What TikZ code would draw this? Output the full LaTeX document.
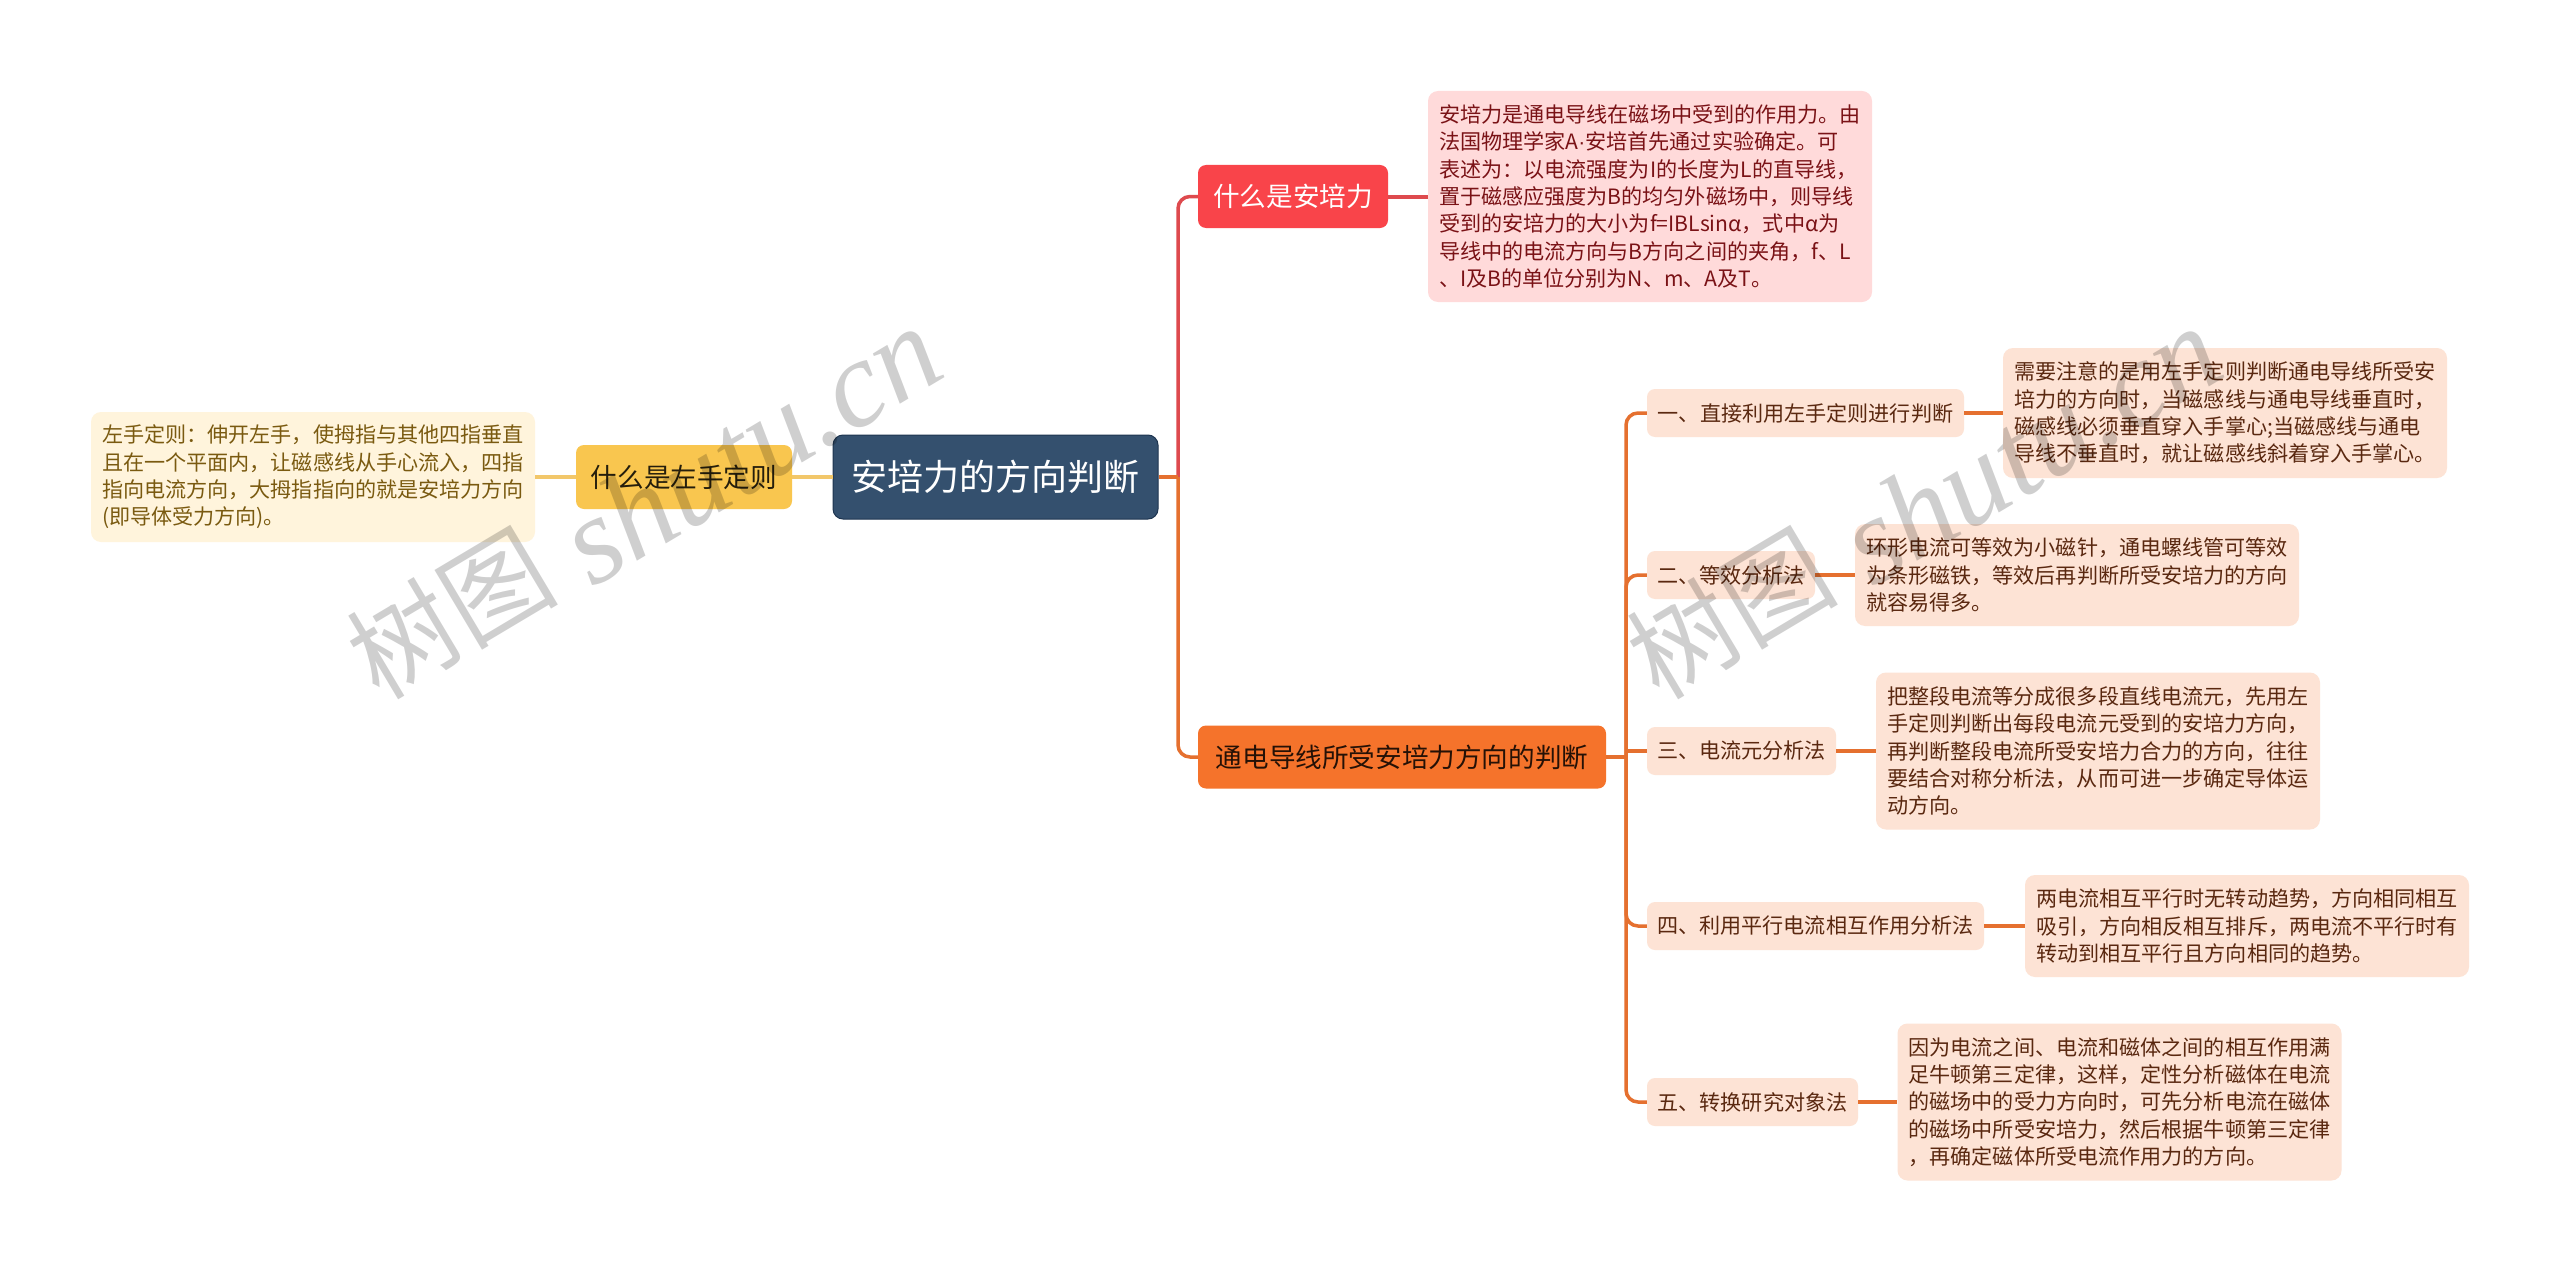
\documentclass[tikz,border=0pt]{standalone}
\usepackage{fontspec}
\setmainfont{Noto Sans CJK SC}
\newfontfamily\wmf{Liberation Serif}
\newfontfamily\dotf{Liberation Sans}
\definecolor{rootc}{HTML}{34506E}
\definecolor{rootb}{HTML}{1E3550}
\definecolor{redc}{HTML}{F9444A}
\definecolor{orangec}{HTML}{F5732B}
\definecolor{yellowc}{HTML}{F9C64F}
\definecolor{pinkc}{HTML}{FFDADA}
\definecolor{pinkt}{HTML}{7A1216}
\definecolor{peachc}{HTML}{FDE3D5}
\definecolor{peacht}{HTML}{5A2810}
\definecolor{creamc}{HTML}{FFF4DC}
\definecolor{creamt}{HTML}{7A5A10}
\definecolor{redl}{HTML}{DE4A4E}
\definecolor{orangel}{HTML}{E5702F}
\definecolor{yellowl}{HTML}{F2C76A}
\tikzset{
  x=1pt,y=-1pt,
  base/.style={inner sep=0pt,rounded corners=8pt,align=center},
  big/.style={font=\fontsize{26.6}{32}\selectfont},
  small/.style={font=\fontsize{21.1}{27.3}\selectfont},
  rootbox/.style={base,fill=rootc,draw=rootb,line width=1pt,text=white,rounded corners=10pt,font=\fontsize{36}{42}\selectfont},
  redbox/.style={base,big,fill=redc,text=white},
  orangebox/.style={base,big,fill=orangec,text=black!85!orangec},
  yellowbox/.style={base,big,fill=yellowc,text=black!85!yellowc},
  subbox/.style={base,small,fill=peachc,text=peacht},
  leafbase/.style={base,small,align=left,rounded corners=10pt},
  pinkleaf/.style={leafbase,fill=pinkc,text=pinkt},
  peachleaf/.style={leafbase,fill=peachc,text=peacht},
  creamleaf/.style={leafbase,fill=creamc,text=creamt},
  conn/.style={line width=3.5pt,line join=round},
  leafconn/.style={line width=4pt},
  rconn/.style={conn,rounded corners=12pt},
  watermark/.style={anchor=base west,rotate=30.8,inner sep=0pt,text=black,text opacity=.19},
}
\newcommand{\wmtext}{\raisebox{12pt}{\fontsize{106}{110}\selectfont 树图}\hspace{29pt}{\wmf\itshape\fontsize{124}{130}\selectfont shutu.cn}}
\begin{document}
\begin{tikzpicture}
\useasboundingbox (0,0) rectangle (2560,1271);
\fill[white] (0,0) rectangle (2560,1271);

\node[rootbox,minimum width=325pt,minimum height=84pt] (root) at (995.5,477) {安培力的方向判断};
\node[redbox,minimum width=190pt,minimum height=63pt] (what) at (1293,196.5) {什么是安培力};
\node[orangebox,minimum width=408pt,minimum height=63pt] (dir) at (1402,757) {通电导线所受安培力方向的判断};
\node[yellowbox,minimum width=216pt,minimum height=64pt] (left) at (684,477) {什么是左手定则};

\node[pinkleaf,minimum width=444pt,minimum height=211pt,text width=422pt] (whatd) at (1650,196.5) {安培力是通电导线在磁场中受到的作用力。由\\法国物理学家A{\dotf ·}安培首先通过实验确定。可\\表述为：以电流强度为I的长度为L的直导线，\\置于磁感应强度为B的均匀外磁场中，则导线\\受到的安培力的大小为f=IBLsinα，式中α为\\导线中的电流方向与B方向之间的夹角，f、L\\、I及B的单位分别为N、m、A及T。};
\node[creamleaf,minimum width=444pt,minimum height=130pt,text width=422pt] (leftd) at (313,477) {左手定则：伸开左手，使拇指与其他四指垂直\\且在一个平面内，让磁感线从手心流入，四指\\指向电流方向，大拇指指向的就是安培力方向\\(即导体受力方向)。};

\node[subbox,minimum width=317pt,minimum height=48pt] (m1) at (1805.5,413) {一、直接利用左手定则进行判断};
\node[subbox,minimum width=168pt,minimum height=48pt] (m2) at (1731,575) {二、等效分析法};
\node[subbox,minimum width=189pt,minimum height=48pt] (m3) at (1741.5,751) {三、电流元分析法};
\node[subbox,minimum width=337pt,minimum height=48pt] (m4) at (1815.5,926) {四、利用平行电流相互作用分析法};
\node[subbox,minimum width=211pt,minimum height=48pt] (m5) at (1752.5,1102) {五、转换研究对象法};

\node[peachleaf,minimum width=444pt,minimum height=130pt,text width=422pt] (d1) at (2225,413) {需要注意的是用左手定则判断通电导线所受安\\培力的方向时，当磁感线与通电导线垂直时，\\磁感线必须垂直穿入手掌心;当磁感线与通电\\导线不垂直时，就让磁感线斜着穿入手掌心。};
\node[peachleaf,minimum width=444pt,minimum height=102pt,text width=422pt] (d2) at (2077,575) {环形电流可等效为小磁针，通电螺线管可等效\\为条形磁铁，等效后再判断所受安培力的方向\\就容易得多。};
\node[peachleaf,minimum width=444pt,minimum height=157pt,text width=422pt] (d3) at (2098,751) {把整段电流等分成很多段直线电流元，先用左\\手定则判断出每段电流元受到的安培力方向，\\再判断整段电流所受安培力合力的方向，往往\\要结合对称分析法，从而可进一步确定导体运\\动方向。};
\node[peachleaf,minimum width=444pt,minimum height=102pt,text width=422pt] (d4) at (2247,926) {两电流相互平行时无转动趋势，方向相同相互\\吸引，方向相反相互排斥，两电流不平行时有\\转动到相互平行且方向相同的趋势。};
\node[peachleaf,minimum width=444pt,minimum height=157pt,text width=422pt] (d5) at (2119.5,1102) {因为电流之间、电流和磁体之间的相互作用满\\足牛顿第三定律，这样，定性分析磁体在电流\\的磁场中的受力方向时，可先分析电流在磁体\\的磁场中所受安培力，然后根据牛顿第三定律\\，再确定磁体所受电流作用力的方向。};

\coordinate (ja) at (1178,477);
\coordinate (jb) at (1626,757);

\draw[conn,yellowl] (left) -- (root);
\draw[conn,yellowl] (left) -- (leftd);
\draw[rconn,redl] (ja) |- (what.west);
\draw[leafconn,redl] (what) -- (whatd);
\draw[rconn,orangel] (ja) |- (dir.west);
\draw[conn,orangel] (root.east) -- (ja);
\draw[conn,orangel] (dir.east) -- (jb);
\draw[rconn,orangel] (jb) |- (m1.west);
\draw[rconn,orangel] (jb) |- (m2.west);
\draw[conn,orangel] (jb |- m3.west) -- (m3.west);
\draw[rconn,orangel] (jb) |- (m4.west);
\draw[rconn,orangel] (jb) |- (m5.west);
\draw[leafconn,orangel] (m1) -- (d1);
\draw[leafconn,orangel] (m2) -- (d2);
\draw[leafconn,orangel] (m3) -- (d3);
\draw[leafconn,orangel] (m4) -- (d4);
\draw[leafconn,orangel] (m5) -- (d5);

\node[watermark] (wa) at (385,712) {\wmtext};
\node[watermark] (wb) at (1665,712) {\wmtext};
\end{tikzpicture}
\end{document}
